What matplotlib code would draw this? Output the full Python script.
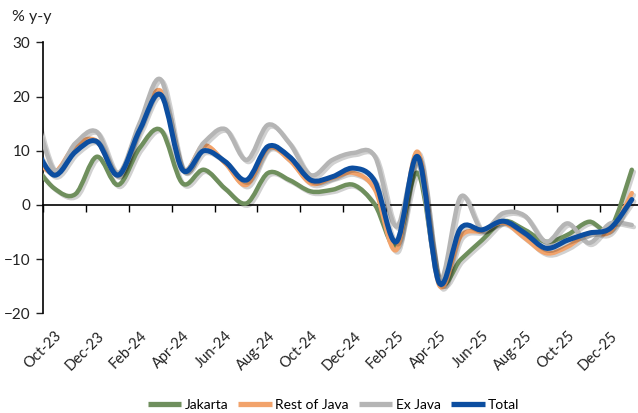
import numpy as np
import matplotlib
matplotlib.use('Agg')
import matplotlib.pyplot as plt
import matplotlib.patheffects as pe
from matplotlib.path import Path
from matplotlib.patches import PathPatch
from matplotlib.lines import Line2D

plt.rcParams['font.family'] = ['Lato', 'DejaVu Sans']

# monthly readings, Sep-23 sits just left of the axis (clipped like in the source)
months = ['Sep-23', 'Oct-23', 'Nov-23', 'Dec-23', 'Jan-24', 'Feb-24', 'Mar-24',
          'Apr-24', 'May-24', 'Jun-24', 'Jul-24', 'Aug-24', 'Sep-24', 'Oct-24',
          'Nov-24', 'Dec-24', 'Jan-25', 'Feb-25', 'Mar-25', 'Apr-25', 'May-25',
          'Jun-25', 'Jul-25', 'Aug-25', 'Sep-25', 'Oct-25', 'Nov-25', 'Dec-25',
          'Jan-26']

jakarta = [7.8, 3.1, 2.0, 8.9, 3.7, 10.5, 13.8, 4.0, 6.5, 3.0, 0.3, 5.9, 4.6,
           2.5, 2.8, 3.7, 0.0, -7.5, 5.9, -14.0, -10.1, -6.5, -3.0, -4.6, -6.8,
           -5.5, -3.1, -4.3, 6.5]
rest_java = [9.0, 6.0, 11.0, 11.8, 5.5, 14.5, 21.0, 6.5, 11.0, 7.7, 3.7, 10.5,
             8.3, 4.0, 5.0, 5.9, 2.8, -8.3, 9.8, -14.8, -5.8, -4.8, -3.3, -6.1,
             -8.9, -7.7, -5.2, -4.9, 2.2]
ex_java = [19.0, 6.5, 11.4, 13.5, 5.9, 15.1, 23.1, 6.8, 11.5, 14.0, 8.3, 14.8,
           11.4, 5.5, 8.3, 9.6, 8.9, -4.0, 8.0, -14.0, 1.5, -4.6, -1.5, -2.0,
           -6.8, -3.4, -7.0, -3.4, -3.7]
total = [11.6, 5.5, 9.8, 11.7, 5.5, 13.8, 20.3, 6.5, 10.0, 8.0, 4.6, 10.8, 8.9,
         4.6, 5.2, 6.8, 4.3, -6.8, 8.9, -14.4, -4.3, -4.6, -3.0, -5.2, -8.0,
         -6.5, -5.2, -4.3, 1.0]

series = [
    ('Jakarta', jakarta, '#6F8F5D', 3.2),
    ('Rest of Java', rest_java, '#F2A36B', 3.2),
    ('Ex Java', ex_java, '#B5B5B5', 3.2),
    ('Total', total, '#0C4EA0', 3.6),
]


def smooth_path(xs, ys):
    """Excel-style smoothed line: cubic Bezier segments through every point."""
    pts = np.column_stack([xs, ys])
    n = len(pts)
    verts = [pts[0]]
    codes = [Path.MOVETO]
    for i in range(n - 1):
        p0 = pts[max(i - 1, 0)]
        p1 = pts[i]
        p2 = pts[i + 1]
        p3 = pts[min(i + 2, n - 1)]
        verts += [p1 + (p2 - p0) / 6.0, p2 - (p3 - p1) / 6.0, p2]
        codes += [Path.CURVE4] * 3
    return Path(verts, codes)


fig = plt.figure(figsize=(6.38, 4.13), dpi=100)
ax = fig.add_axes([43.3 / 638, 0.2414, (638 - 43.3) / 638, 0.6559])

x = np.arange(len(months)) - 1

for name, vals, col, lw in series:
    patch = PathPatch(smooth_path(x, vals), facecolor='none', edgecolor=col,
                      lw=lw, capstyle='round', joinstyle='round', zorder=3,
                      path_effects=[pe.SimpleLineShadow(offset=(1.5, -1.5),
                                                        shadow_color='black',
                                                        alpha=0.18),
                                    pe.Normal()])
    ax.add_patch(patch)

ax.set_xlim(-0.5, -0.5 + (638 - 43.3) / 21.4)
ax.set_ylim(-20, 30)
ax.set_yticks([-20, -10, 0, 10, 20, 30])
ax.tick_params(axis='y', direction='out', length=5, width=1, pad=4.5,
               labelsize=11, colors='#222222')

ax.spines['top'].set_visible(False)
ax.spines['right'].set_visible(False)
ax.spines['bottom'].set_position(('data', 0))
ax.spines['left'].set_linewidth(1.2)
ax.spines['bottom'].set_linewidth(1.2)

# tick marks between categories every two months, on the zero line
ax.set_xticks(x[1::2] - 0.5)
ax.set_xticklabels([])
ax.tick_params(axis='x', direction='out', length=5, width=1)

# month labels along the bottom of the plot area
sec = ax.secondary_xaxis('bottom')
sec.set_xticks(x[1::2])
sec.set_xticklabels(months[1::2])
sec.spines['bottom'].set_visible(False)
sec.tick_params(axis='x', length=0, pad=11, labelsize=10.5, colors='#222222')
for lab in sec.get_xticklabels():
    lab.set_rotation(45)
    lab.set_ha('right')
    lab.set_rotation_mode('anchor')

fig.text(12 / 638, 1 - 17 / 413, '% y-y', fontsize=11.5, color='#222222',
         ha='left', va='center')

handles = [Line2D([0], [0], color=c, lw=3.8, solid_capstyle='butt')
           for _, _, c, _ in series]
fig.legend(handles, [s[0] for s in series], loc='center',
           bbox_to_anchor=(333.5 / 638, 1 - 405 / 413), ncol=4, frameon=False,
           fontsize=10, handlelength=2.4, handletextpad=0.25, columnspacing=0.75)

fig.savefig('out.png', dpi=100)
